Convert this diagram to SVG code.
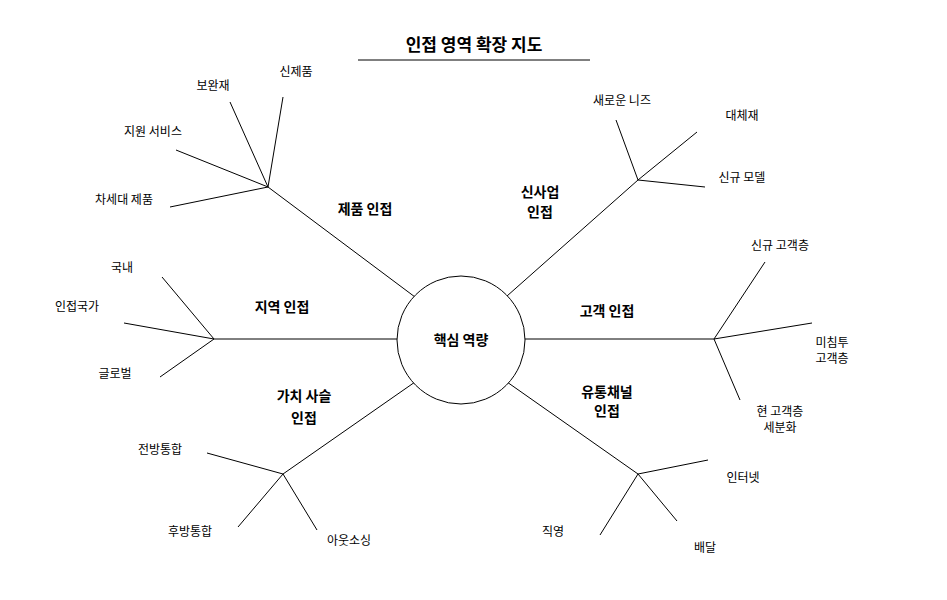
<svg xmlns="http://www.w3.org/2000/svg" width="947" height="600" viewBox="0 0 947 600">
<style>
line{stroke:#000;stroke-width:1}
text{font-family:"Noto Sans CJK KR","Noto Sans",sans-serif;fill:#000;text-anchor:middle}
.s{font-size:12px}
.b{font-size:14px;font-weight:bold}
</style>
<rect width="947" height="600" fill="#fff"/>
<g id="title"><text x="474" y="51" style="font-size:17px;font-weight:bold">인접 영역 확장 지도</text><line x1="358" y1="60" x2="590" y2="60"/></g>
<g id="connectors">
<line x1="415" y1="297" x2="268" y2="187"/><line x1="268" y1="187" x2="230" y2="102"/><line x1="268" y1="187" x2="283" y2="97"/><line x1="268" y1="187" x2="176" y2="150"/><line x1="268" y1="187" x2="170" y2="207"/>
<line x1="507" y1="296" x2="638" y2="180"/><line x1="638" y1="180" x2="616" y2="120"/><line x1="638" y1="180" x2="697" y2="132"/><line x1="638" y1="180" x2="705" y2="187"/>
<line x1="397" y1="339" x2="214" y2="339"/><line x1="214" y1="339" x2="162" y2="277"/><line x1="214" y1="339" x2="124" y2="323"/><line x1="214" y1="339" x2="160" y2="377"/>
<line x1="525" y1="339" x2="714" y2="339"/><line x1="714" y1="339" x2="765" y2="262"/><line x1="714" y1="339" x2="812" y2="323"/><line x1="714" y1="339" x2="740" y2="400"/>
<line x1="415" y1="382" x2="283" y2="474"/><line x1="283" y1="474" x2="207" y2="453"/><line x1="283" y1="474" x2="238" y2="527"/><line x1="283" y1="474" x2="317" y2="530"/>
<line x1="507" y1="382" x2="638" y2="474"/><line x1="638" y1="474" x2="600" y2="535"/><line x1="638" y1="474" x2="677" y2="521"/><line x1="638" y1="474" x2="708" y2="460"/>
</g>
<g id="core"><circle cx="461" cy="340" r="64" fill="#fff" stroke="#000"/><text class="b" x="461" y="345">핵심 역량</text></g>
<g id="product"><text class="b" x="365" y="214">제품 인접</text><text class="s" x="213" y="90">보완재</text><text class="s" x="296" y="76">신제품</text><text class="s" x="153" y="136">지원 서비스</text><text class="s" x="124" y="204">차세대 제품</text></g>
<g id="newbiz"><text class="b" x="540" y="197">신사업</text><text class="b" x="540" y="217">인접</text><text class="s" x="622" y="105">새로운 니즈</text><text class="s" x="742" y="120">대체재</text><text class="s" x="742" y="182">신규 모델</text></g>
<g id="region"><text class="b" x="282" y="312">지역 인접</text><text class="s" x="122" y="272">국내</text><text class="s" x="77" y="311">인접국가</text><text class="s" x="115" y="378">글로벌</text></g>
<g id="customer"><text class="b" x="607" y="316">고객 인접</text><text class="s" x="780" y="250">신규 고객층</text><text class="s" x="832" y="347">미침투</text><text class="s" x="832" y="363">고객층</text><text class="s" x="780" y="416">현 고객층</text><text class="s" x="780" y="432">세분화</text></g>
<g id="valuechain"><text class="b" x="304" y="401">가치 사슬</text><text class="b" x="304" y="423">인접</text><text class="s" x="160" y="454">전방통합</text><text class="s" x="190" y="536">후방통합</text><text class="s" x="349" y="545">아웃소싱</text></g>
<g id="channel"><text class="b" x="607" y="397">유통채널</text><text class="b" x="607" y="416">인접</text><text class="s" x="553" y="536">직영</text><text class="s" x="705" y="552">배달</text><text class="s" x="743" y="482">인터넷</text></g>
</svg>
